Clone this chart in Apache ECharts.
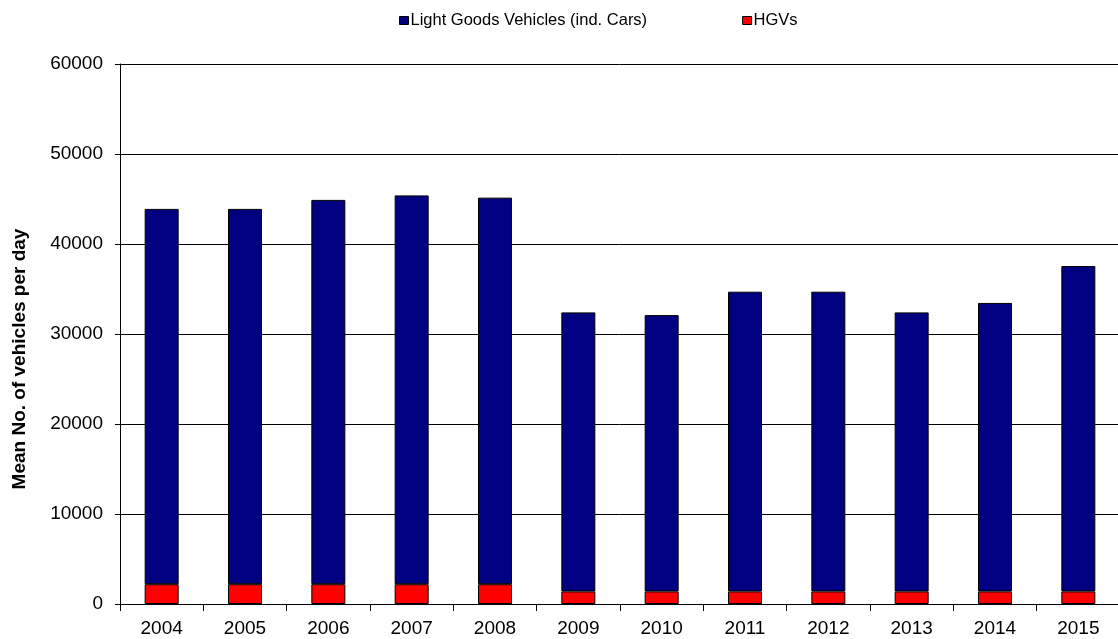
<!DOCTYPE html>
<html>
<head>
<meta charset="utf-8">
<script src="https://cdn.jsdelivr.net/npm/echarts@6/dist/echarts.min.js"></script>
<style>
  html, body { margin: 0; padding: 0; background: #fff; }
  #chart { width: 1118px; height: 639px; }
</style>
</head>
<body>
<div id="chart"></div>
<script>
// Mean daily traffic by vehicle class
const years = ['2004', '2005', '2006', '2007', '2008', '2009', '2010', '2011', '2012', '2013', '2014', '2015'];
const hgvs = [2200, 2200, 2200, 2200, 2200, 1400, 1400, 1400, 1400, 1400, 1400, 1400];
const lightGoods = [41700, 41700, 42700, 43200, 42950, 31000, 30700, 33300, 33300, 31000, 32050, 36150];
const yTicks = { min: 0, max: 60000, interval: 10000 };

const FONT = '"Liberation Sans", Arial, sans-serif';

const chart = echarts.init(document.getElementById('chart'), null, { renderer: 'canvas' });

chart.setOption({
  backgroundColor: '#ffffff',
  animation: false,
  textStyle: { fontFamily: FONT, color: '#000' },
  legend: {
    data: ['Light Goods Vehicles (ind. Cars)', 'HGVs'],
    left: 399,
    top: 12,
    padding: 0,
    icon: 'rect',
    itemWidth: 9,
    itemHeight: 8,
    itemGap: 95,
    itemStyle: { borderColor: '#000', borderWidth: 1 },
    textStyle: { fontFamily: FONT, fontSize: 16.5, color: '#000', padding: [0, 0, 0, -3] }
  },
  grid: {
    left: 120,
    top: 64,
    width: 1000,
    bottom: 35,
    outerBoundsMode: 'none'
  },
  xAxis: {
    type: 'category',
    data: years,
    boundaryGap: true,
    axisLine: { lineStyle: { color: '#000', width: 1 } },
    axisTick: { show: true, alignWithLabel: false, length: 7, lineStyle: { color: '#000' } },
    axisLabel: { fontFamily: FONT, fontSize: 19, color: '#000', margin: 15 },
    splitLine: { show: false }
  },
  yAxis: {
    type: 'value',
    min: yTicks.min,
    max: yTicks.max,
    interval: yTicks.interval,
    name: 'Mean No. of vehicles per day',
    nameLocation: 'middle',
    nameRotate: 90,
    nameGap: 91,
    nameTextStyle: {
      fontFamily: FONT, fontSize: 19, fontWeight: 'bold', color: '#000',
      padding: [0, 50, 0, 0]
    },
    axisLine: { show: true, lineStyle: { color: '#000', width: 1 } },
    axisTick: { show: true, length: 5, lineStyle: { color: '#000' } },
    axisLabel: {
      fontFamily: FONT, fontSize: 19, color: '#000', margin: 17,
      formatter: (v) => String(v)
    },
    splitLine: { show: true, lineStyle: { color: '#000', width: 1 } }
  },
  series: [
    {
      name: 'HGVs',
      type: 'bar',
      stack: 'total',
      data: hgvs,
      barWidth: 34,
      itemStyle: { color: '#ff0000', borderColor: '#000', borderWidth: 1 }
    },
    {
      name: 'Light Goods Vehicles (ind. Cars)',
      type: 'bar',
      stack: 'total',
      data: lightGoods,
      barWidth: 34,
      itemStyle: { color: '#000080', borderColor: '#000', borderWidth: 1 }
    }
  ]
});
</script>
</body>
</html>
